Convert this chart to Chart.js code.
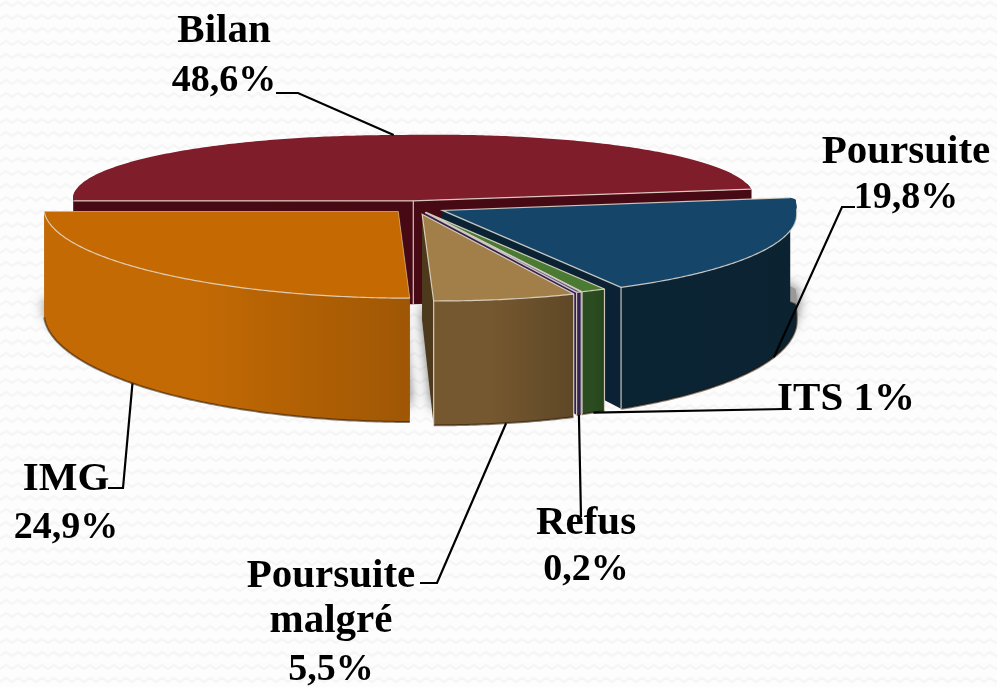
<!DOCTYPE html>
<html lang="fr">

<head>
    <meta charset="UTF-8">
    <script src="https://cdn.jsdelivr.net/npm/chart.js@4/dist/chart.umd.js"></script>
    <title>Bilan</title>
    <style>
        body {
            margin: 0;
            background: #fdfdfd;
        }

        canvas {
            display: block;
        }
    </style>
</head>

<body>
    <canvas id="myChart" width="997" height="687"></canvas>
    <script>
        // values
        const categories = ['Bilan', 'Poursuite', 'ITS', 'Refus', 'Poursuite malgré', 'IMG'];
        const percents = [48.6, 19.8, 1, 0.2, 5.5, 24.9];

        // colours of each slice
        const topColors = ['#801d2b', '#15466a', '#4b7a32', '#5a4a80', '#a27f48', '#c56a03'];
        const wallLeft = ['#470a15', '#0b2434', '#2b4c20', '#33224f', '#75582f', '#c46a04'];
        const wallRight = ['#470a15', '#0b2231', '#27451d', '#33224f', '#5f4827', '#9f5705'];
        const faceColors = ['#470a15', '#0a2233', '#2b4c20', '#33224f', '#4d3a1c', '#a05604'];
        const explode = [33, 30, 24, 24, 30, 26];

        // text and leader line placement
        const textFont = 'bold 41px "Liberation Serif"';
        const percentFont = 'bold 38px "Liberation Serif"';
        const labelBoxes = [
            { x: 224, y: [42, 91], leader: [[276, 93], [298, 93]], along: 0.51, z: 0 },
            { x: 906, y: [163, 208], leader: [[855, 207], [842, 207]], along: 0.46, z: 1 },
            { x: 846, y: [410], leader: [[785, 409]], along: 0.5, z: 1 },
            { x: 586, y: [534, 580], leader: [[581, 517]], along: 0.5, z: 1 },
            { x: 331, y: [587, 632, 680], leader: [[420, 583], [437, 583]], along: 0.5, z: 1 },
            { x: 66, y: [490, 538], leader: [[108, 488], [123, 488]], along: 0.5, z: 1 }
        ];

        // tilted view of the pie plane
        const squashFront = 0.245;
        const squashBack = 0.186;
        const perspective = 0.00048;
        const narrowBack = 0.04;
        const skew = 0.04;
        const tilt = 0.02;
        const depth = 105;
        const angleWarp = 0.1;

        function project(arc, px, py, z) {
            const lift = px > 0 ? tilt * px * Math.max(0, 1 - Math.max(py, 0) / 40) : 0;
            const widen = py < 0 ? 1 - narrowBack * Math.min(1, -py / 33) : 1;
            return [
                arc.x + px * widen + skew * py,
                arc.y + (py > 0 ? squashFront : squashBack) * py - lift + z * depth * (1 + perspective * py)
            ];
        }

        function sliceParts(arc) {
            const mid = (arc.startAngle + arc.endAngle) / 2;
            const off = arc.options.offset;
            const ox = Math.cos(mid) * off;
            const oy = Math.sin(mid) * off;
            const r = arc.outerRadius;
            return {
                apex: z => project(arc, ox, oy, z),
                rim: (a, z) => {
                    // slices nearer the viewer look wider
                    const w = a - angleWarp * Math.sin(2 * a);
                    return project(arc, ox + r * Math.cos(w), oy + r * Math.sin(w), z);
                }
            };
        }

        function rimPoints(parts, from, to, z) {
            const pts = [];
            const steps = Math.max(2, Math.ceil((to - from) / 0.01));
            for (let i = 0; i <= steps; i++) {
                pts.push(parts.rim(from + (to - from) * i / steps, z));
            }
            return pts;
        }

        function fillPoly(ctx, pts, fill) {
            ctx.beginPath();
            pts.forEach((p, i) => i ? ctx.lineTo(p[0], p[1]) : ctx.moveTo(p[0], p[1]));
            ctx.closePath();
            ctx.fillStyle = fill;
            ctx.fill();
        }

        function strokeLine(ctx, pts, color, width) {
            ctx.beginPath();
            pts.forEach((p, i) => i ? ctx.lineTo(p[0], p[1]) : ctx.moveTo(p[0], p[1]));
            ctx.strokeStyle = color;
            ctx.lineWidth = width;
            ctx.stroke();
        }

        function drawSlice(ctx, arc, i) {
            const parts = sliceParts(arc);
            const start = arc.startAngle;
            const end = arc.endAngle;
            const light = 'rgba(232,222,210,0.85)';
            // cut faces
            [start, end].forEach(a => {
                fillPoly(ctx, [parts.apex(0), parts.rim(a, 0), parts.rim(a, 1), parts.apex(1)], faceColors[i]);
            });
            // outer wall, only the part that faces the viewer
            const twoPi = Math.PI * 2;
            const ranges = [[-0.2, Math.PI + 0.2], [twoPi - 0.2, twoPi + Math.PI + 0.2]];
            ranges.forEach(rg => {
                const from = Math.max(start, rg[0]);
                const to = Math.min(end, rg[1]);
                if (to <= from) return;
                const up = rimPoints(parts, from, to, 0);
                const down = rimPoints(parts, from, to, 1);
                const xs = up.map(p => p[0]);
                const grad = ctx.createLinearGradient(Math.min(...xs), 0, Math.max(...xs), 0);
                grad.addColorStop(0, wallLeft[i]);
                grad.addColorStop(0.4, wallLeft[i]);
                grad.addColorStop(1, wallRight[i]);
                fillPoly(ctx, up.concat(down.reverse()), grad);
                strokeLine(ctx, rimPoints(parts, from, to, 1), 'rgba(40,20,0,0.55)', 2);
            });
            // top
            fillPoly(ctx, [parts.apex(0)].concat(rimPoints(parts, start, end, 0)), topColors[i]);
            // light edges
            strokeLine(ctx, [parts.rim(start, 0), parts.apex(0), parts.rim(end, 0)], light, i === 5 ? 0.6 : 1.2);
            const twoPiStart = start > Math.PI ? twoPi : 0;
            const front = [Math.max(start, twoPiStart + 0.02), Math.min(end, twoPiStart + Math.PI)];
            if (i > 0 && front[1] > front[0]) {
                strokeLine(ctx, rimPoints(parts, front[0], front[1], 0), light, 1.2);
            }
            if (i < 5) {
                [start, end].forEach(a => {
                    if (Math.sin(a) > 0.3) strokeLine(ctx, [parts.rim(a, 0), parts.rim(a, 1)], light, 1.2);
                });
            }
            if (i === 0) strokeLine(ctx, [parts.apex(0), parts.apex(1)], light, 1.2);
        }

        const chevronBackground = {
            id: 'chevronBackground',
            beforeDraw(chart) {
                const ctx = chart.ctx;
                ctx.save();
                ctx.strokeStyle = '#f6f6f6';
                ctx.lineWidth = 2.5;
                for (let y = 4; y < chart.height; y += 13) {
                    ctx.beginPath();
                    for (let x = 0; x <= chart.width + 12; x += 6) {
                        const yy = y + (x % 12 === 0 ? 2 : -2);
                        x ? ctx.lineTo(x, yy) : ctx.moveTo(x, yy);
                    }
                    ctx.stroke();
                }
                ctx.restore();
            }
        };

        const pie3d = {
            id: 'pie3d',
            beforeDatasetsDraw(chart) {
                const ctx = chart.ctx;
                const arcs = chart.getDatasetMeta(0).data;
                ctx.save();
                // soft shadow on the ground, before any slice
                ctx.shadowColor = 'rgba(0,0,0,0.7)';
                ctx.shadowBlur = 14;
                arcs.forEach(arc => {
                    const parts = sliceParts(arc);
                    fillPoly(ctx, [parts.apex(0.85)].concat(rimPoints(parts, arc.startAngle, arc.endAngle, 0.85)), '#999');
                });
                ctx.shadowColor = 'transparent';
                ctx.shadowBlur = 0;
                arcs.forEach((arc, i) => drawSlice(ctx, arc, i));
                ctx.restore();
                return false;
            },
            afterDraw(chart) {
                const ctx = chart.ctx;
                const arcs = chart.getDatasetMeta(0).data;
                ctx.save();
                ctx.fillStyle = '#000';
                ctx.textAlign = 'center';
                ctx.textBaseline = 'alphabetic';
                categories.forEach((name, i) => {
                    const box = labelBoxes[i];
                    const pct = String(percents[i]).replace('.', ',') + '%';
                    let lines = [name, pct];
                    if (name === 'ITS') lines = [name + ' ' + pct];
                    if (name === 'Poursuite malgré') lines = ['Poursuite', 'malgré', pct];
                    lines.forEach((t, j) => {
                        ctx.font = t === pct ? percentFont : textFont;
                        ctx.fillText(t, box.x, box.y[j]);
                    });
                    // leader line down to the slice
                    const arc = arcs[i];
                    const a = arc.startAngle + (arc.endAngle - arc.startAngle) * box.along;
                    const tip = sliceParts(arc).rim(a, box.z);
                    strokeLine(ctx, box.leader.concat([tip]), '#000', 2.2);
                });
                ctx.restore();
            }
        };

        var ctx = document.getElementById('myChart').getContext('2d');
        var myChart = new Chart(ctx, {
            type: 'pie',
            data: {
                labels: categories,
                datasets: [{
                    data: percents,
                    backgroundColor: topColors,
                    offset: explode,
                    borderWidth: 0
                }]
            },
            options: {
                responsive: false,
                animation: false,
                rotation: 270,
                radius: 354,
                // puts the centre of the pie at 416,207
                layout: { padding: { right: 165, bottom: 273 } },
                plugins: {
                    legend: { display: false },
                    tooltip: { enabled: false }
                }
            },
            plugins: [chevronBackground, pie3d]
        });
    </script>
</body>

</html>
